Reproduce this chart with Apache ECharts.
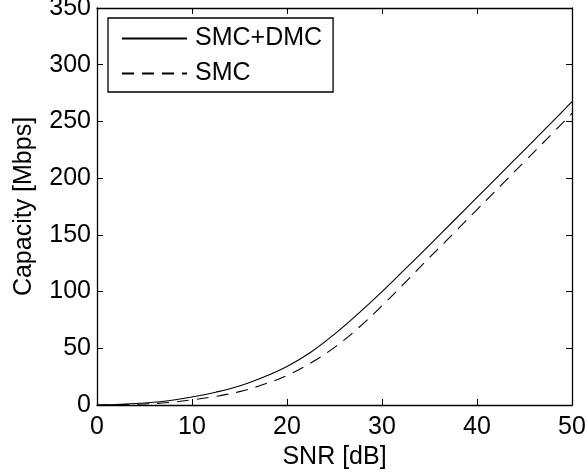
<!DOCTYPE html>
<html>
<head>
<meta charset="utf-8">
<script src="https://cdn.jsdelivr.net/npm/echarts@6/dist/echarts.min.js"></script>
<style>html,body{margin:0;padding:0;background:#fff;}#c{width:587px;height:475px;}</style>
</head>
<body>
<div id="c"></div>
<script>
const snr = [0, 2.5, 5, 7.5, 10, 12.5, 15, 17.5, 20, 22.5, 25, 27.5, 30, 32.5, 35, 37.5, 40, 42.5, 45, 47.5, 50];
const smcDmc = [0, 0.7, 1.8, 3.8, 7, 11.3, 16.8, 24.5, 34, 46.5, 62.5, 80.6, 100, 120.4, 141, 162, 183, 204, 225, 246, 267.5];
const smc = [0, 0.3, 0.9, 2.2, 4.5, 7.6, 11.8, 18, 26, 37, 50.8, 67.8, 87.5, 108.5, 130, 151, 172.2, 193.4, 214.6, 235.8, 257];
const xTicks = [0, 10, 20, 30, 40, 50];
const yTicks = [0, 50, 100, 150, 200, 250, 300, 350];

const FONT = 'Liberation Sans, Arial, Helvetica, sans-serif';
const chart = echarts.init(document.getElementById('c'));
const axisLine = () => ({show: true, onZero: false, lineStyle: {color: '#000', width: 1.3}});
const tick = () => ({show: true, inside: true, length: 6, lineStyle: {color: '#000', width: 1}});
chart.setOption({
  animation: false,
  backgroundColor: '#fff',
  grid: {left: 97, right: 15, top: 8, bottom: 70, containLabel: false, outerBoundsMode: 'none'},
  xAxis: [
    {type: 'value', position: 'bottom', min: xTicks[0], max: xTicks[xTicks.length-1], interval: 10,
     name: 'SNR [dB]', nameLocation: 'middle', nameGap: 40,
     nameTextStyle: {fontFamily: FONT, fontSize: 25, color: '#000'},
     axisLine: axisLine(), axisTick: tick(), splitLine: {show: false},
     axisLabel: {fontFamily: FONT, fontSize: 25, color: '#000', margin: 10}},
    {type: 'value', position: 'top', min: 0, max: 50, interval: 10,
     axisLine: axisLine(), axisTick: tick(), splitLine: {show: false}, axisLabel: {show: false}}
  ],
  yAxis: [
    {type: 'value', position: 'left', min: yTicks[0], max: yTicks[yTicks.length-1], interval: 50,
     name: 'Capacity [Mbps]', nameLocation: 'middle', nameGap: 60,
     nameTextStyle: {fontFamily: FONT, fontSize: 25, color: '#000'},
     axisLine: axisLine(), axisTick: tick(), splitLine: {show: false},
     axisLabel: {fontFamily: FONT, fontSize: 25, color: '#000', margin: 6}},
    {type: 'value', position: 'right', min: 0, max: 350, interval: 50,
     axisLine: axisLine(), axisTick: tick(), splitLine: {show: false}, axisLabel: {show: false}}
  ],
  legend: {
    orient: 'vertical', left: 108, top: 18,
    backgroundColor: '#fff', borderColor: '#000', borderWidth: 1.3,
    padding: [8, 11, 6, 13], itemWidth: 65, itemHeight: 25, itemGap: 10,
    itemStyle: {opacity: 0},
    textStyle: {fontFamily: FONT, fontSize: 25, color: '#000', lineHeight: 25, padding: [0, 0, 0, 3]},
    data: ['SMC+DMC', 'SMC']
  },
  series: [
    {name: 'SMC+DMC', type: 'line', smooth: 0.4, symbol: 'none',
     data: snr.map((x, i) => [x, smcDmc[i]]),
     lineStyle: {color: '#000', width: 1.1, type: 'solid'}, itemStyle: {color: '#000'}},
    {name: 'SMC', type: 'line', smooth: 0.4, symbol: 'none',
     data: snr.map((x, i) => [x, smc[i]]),
     lineStyle: {color: '#000', width: 1.1, type: [12, 8]}, itemStyle: {color: '#000'}}
  ]
});
</script>
</body>
</html>
